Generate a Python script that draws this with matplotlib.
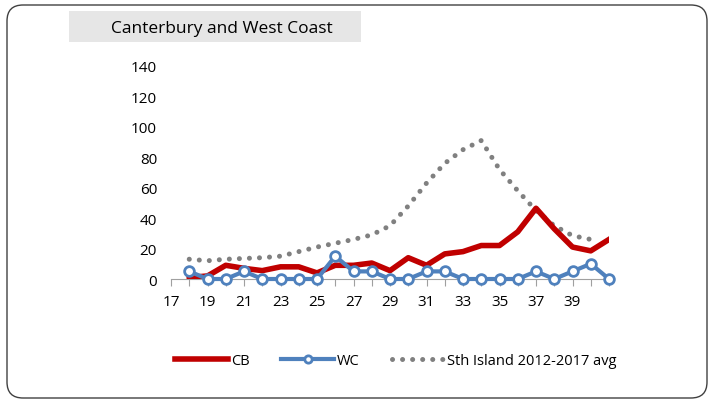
import numpy as np
import matplotlib.pyplot as plt
from matplotlib.patches import FancyBboxPatch, Rectangle

plt.rcParams["font.family"] = ["Open Sans", "DejaVu Sans"]

weeks = list(range(17, 42))
cb = [np.nan, 1, 2, 9, 7, 5.5, 8, 8, 4, 9, 9, 10.5, 5.5, 14, 9, 16.5, 18, 22, 22, 31, 46.5, 33, 21, 18.5, 26]
wc = [np.nan, 5, 0, 0, 5, 0, 0, 0, 0, 15, 5, 5, 0, 0, 5, 5, 0, 0, 0, 0, 5, 0, 5, 10, 0]
avg = [np.nan, 13, 12, 13, 13.5, 14, 15, 18, 21, 23.5, 26, 29, 35, 48, 63, 76, 85, 91, 72, 58, 45, 35, 28.5, 26, np.nan]
yticks = [0, 20, 40, 60, 80, 100, 120, 140]

RED = "#C00000"
BLUE = "#4F81BD"
GREY = "#808080"

fig = plt.figure(figsize=(7.09, 4.02), dpi=100)

# rounded outer border (pixel coords)
border = FancyBboxPatch((7, 3), 700, 393, boxstyle="round,pad=0,rounding_size=16",
                        transform=None, fill=False, edgecolor="#404040", linewidth=1.0)
fig.patches.append(border)

# title box
fig.patches.append(Rectangle((69, 402 - 43), 292, 31, transform=None,
                             facecolor="#e6e6e6", edgecolor="none"))
fig.text(222 / 709, 1 - 29 / 402, "Canterbury and West Coast", ha="center", va="center",
         fontsize=12.5, color="#000000")

ax = fig.add_axes([171 / 709, 1 - 280 / 402, (609 - 171) / 709, (280 - 67) / 402])
ax.plot(weeks, avg, color=GREY, linewidth=3.6, linestyle=(0, (0.01, 2.0)),
        dash_capstyle="round", label="Sth Island 2012-2017 avg", zorder=2)
ax.plot(weeks, cb, color=RED, linewidth=4.0, label="CB", zorder=3)
ax.plot(weeks, wc, color=BLUE, linewidth=3.0, marker="o", markersize=7,
        markerfacecolor="white", markeredgecolor=BLUE, markeredgewidth=2.0,
        label="WC", clip_on=False, zorder=4)

ax.set_xlim(17, 41)
ax.set_ylim(0, 140)
ax.set_yticks(yticks)
ax.set_xticks(weeks)
ax.set_xticklabels([str(w) if w in range(17, 40, 2) else "" for w in weeks])
for s in ["top", "right", "left"]:
    ax.spines[s].set_visible(False)
ax.spines["bottom"].set_color("#A0A0A0")
ax.tick_params(axis="x", length=5, color="#A0A0A0", direction="out", labelsize=11, pad=6)
ax.tick_params(axis="y", length=0, labelsize=11, pad=10)

handles, labels = ax.get_legend_handles_labels()
order = [1, 2, 0]
fig.legend([handles[i] for i in order], [labels[i] for i in order],
           loc="center", bbox_to_anchor=(396 / 709, 1 - 362 / 402), ncol=3,
           frameon=False, fontsize=10.5, handlelength=3.6, handletextpad=0.2,
           columnspacing=2.2, markerscale=0.75)

fig.savefig("out.png", dpi=100)
